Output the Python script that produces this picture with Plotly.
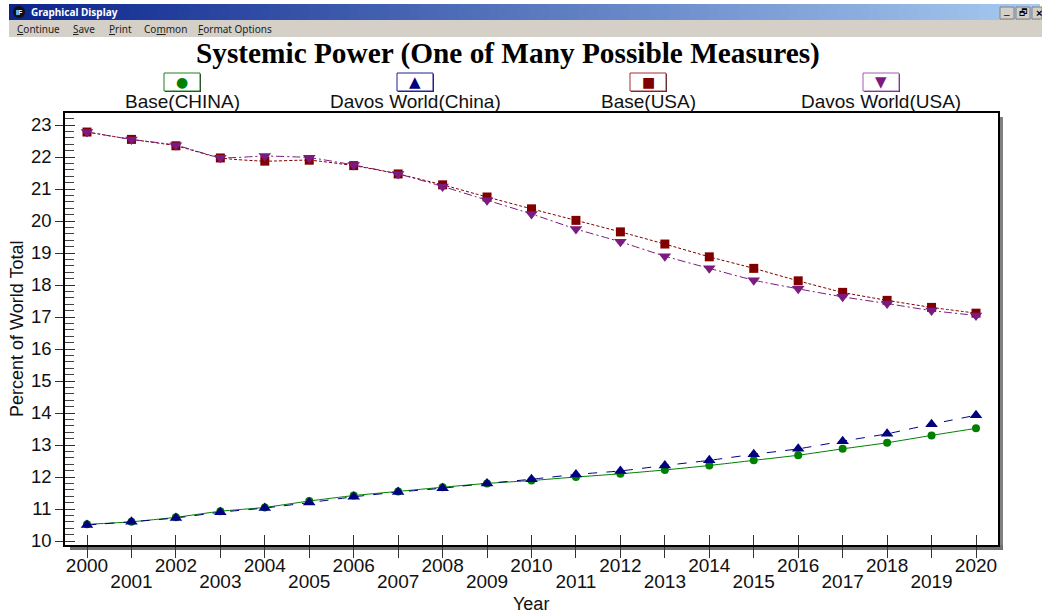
import plotly.graph_objects as go

years = list(range(2000, 2021))
base_china = [10.52,10.60,10.74,10.93,11.05,11.25,11.42,11.55,11.68,11.80,11.89,12.00,12.10,12.22,12.36,12.52,12.68,12.88,13.07,13.30,13.52]
davos_china = [10.50,10.60,10.72,10.90,11.03,11.20,11.38,11.53,11.65,11.80,11.93,12.08,12.19,12.36,12.52,12.71,12.88,13.12,13.35,13.65,13.93]
base_usa = [22.78,22.55,22.35,21.97,21.87,21.90,21.73,21.47,21.13,20.75,20.38,20.02,19.66,19.28,18.88,18.52,18.13,17.77,17.52,17.30,17.12]
davos_usa = [22.78,22.55,22.37,21.98,22.03,21.98,21.75,21.47,21.08,20.65,20.22,19.75,19.35,18.90,18.52,18.15,17.88,17.63,17.42,17.20,17.05]
y_ticks = list(range(10, 24))
even_years = [y for y in years if y % 2 == 0]
odd_years = [y for y in years if y % 2 == 1]

W, H = 1042, 614
L, R, T, B = 65, 998, 113, 545
XR = [1999.505, 2020.495]
YR = [9.875, 23.375]
GREEN, NAVY, RED, PURPLE = "#008000", "#000080", "#800000", "#7B1A80"
INK = "#111111"

def px(v): return (v - L) / (R - L)
def py(v): return (B - v) / (B - T)

def rect(x0, y0, x1, y1, fill=None, line=None, lw=1, layer="below"):
    return dict(type="rect", xref="paper", yref="paper", x0=px(x0), x1=px(x1),
                y0=py(y0), y1=py(y1), fillcolor=fill or "rgba(0,0,0,0)",
                line=dict(color=line or "rgba(0,0,0,0)", width=lw if line else 0), layer=layer)

def note(text, x, y, size, color=INK, family="Liberation Sans", anchor="center", angle=0):
    return dict(text=text, x=px(x), y=py(y), xref="paper", yref="paper", showarrow=False, textangle=angle,
                xanchor=anchor, yanchor="middle", font=dict(size=size, color=color, family=family))

fig = go.Figure()
series = [
    ("Base(CHINA)", base_china, GREEN, "solid", "circle", 8),
    ("Davos World(China)", davos_china, NAVY, "dash", "triangle-up", 11),
    ("Base(USA)", base_usa, RED, "3px,2px", "square", 9),
    ("Davos World(USA)", davos_usa, PURPLE, "8px,3px,2px,3px", "triangle-down", 11),
]
for name, vals, col, dash, sym, size in series:
    fig.add_trace(go.Scatter(x=years, y=vals, name=name, mode="lines+markers",
                             line=dict(color=col, width=1, dash=dash, shape="spline", smoothing=0.5),
                             marker=dict(symbol=sym, size=size, color=col, line=dict(width=0)),
                             showlegend=False))
# keep the overlay axes alive: inner half of the major ticks, and the second row of year labels
for xa, ya in (("x2", "y2"), ("x3", "y2")):
    fig.add_trace(go.Scatter(x=years[:1], y=y_ticks[:1], xaxis=xa, yaxis=ya, mode="markers",
                             marker=dict(opacity=0), showlegend=False, hoverinfo="skip"))

shapes = []
# plot shadow
shapes.append(rect(R, 117, R + 5, B + 5, fill="#808080"))
shapes.append(rect(70, B, R + 5, B + 5, fill="#707070"))
# title bar gradient
n = 103
c0, c1 = (10, 36, 140), (166, 202, 240)
for i in range(n):
    t = i / (n - 1)
    col = tuple(round(a + (b - a) * t) for a, b in zip(c0, c1))
    shapes.append(rect(9 + i * 10, 4, min(9 + (i + 1) * 10 + 1, W), 20, fill="rgb(%d,%d,%d)" % col))
# menu bar
shapes.append(rect(9, 20, W, 37, fill="#D4D0C8"))
# icon
shapes.append(dict(type="circle", xref="paper", yref="paper", x0=px(13), x1=px(25), y0=py(18), y1=py(6),
                   fillcolor="#101010", line=dict(width=0), layer="below"))
# window buttons
for x0 in (1000, 1016, 1032):
    shapes.append(rect(x0, 7, min(x0 + 14, W), 19, fill="#D4D0C8", line="#808080", lw=1))
# legend boxes
for x0, col, edge in ((164, GREEN, "#208020"), (397, NAVY, "#202090"), (630, RED, "#A03030"), (863, PURPLE, "#A060B0")):
    shapes.append(rect(x0 + 1, 74, x0 + 37, 92, fill="#303030"))
    shapes.append(rect(x0, 73, x0 + 36, 91, fill="white", line=edge, lw=1))

annotations = [
    note("<b>Systemic Power (One of Many Possible Measures)</b>", 508, 53, 29.3, "#000000", "Liberation Serif"),
    note("<b>Graphical Display</b>", 29, 12, 10, "white", "Noto Sans", "left"),
    note("<b>IF</b>", 19, 12, 7, "white", "Liberation Sans"),
    note("<u>C</u>ontinue", 15, 29, 10, "#222222", "Noto Sans", "left"),
    note("<u>S</u>ave", 71, 29, 10, "#222222", "Noto Sans", "left"),
    note("<u>P</u>rint", 107, 29, 10, "#222222", "Noto Sans", "left"),
    note("Co<u>m</u>mon", 142, 29, 10, "#222222", "Noto Sans", "left"),
    note("<u>F</u>ormat Options", 196, 29, 10, "#222222", "Noto Sans", "left"),
    note("_", 1007, 11, 10, "#000000", "Liberation Sans"),
    note("🗗", 1023, 13, 9, "#000000", "DejaVu Sans"),
    note("<b>×</b>", 1039, 13, 11, "#000000", "Liberation Sans"),
    note("Percent of World Total", 17, 329, 18, INK, "Liberation Sans", "center", -90),
    note("Year", 531, 604, 18, INK),
]
for (name, vals, col, dash, sym, size), cx, glyph, gs in zip(
        series, (182, 415, 648, 881), ("●", "▲", "■", "▼"), (14, 15, 14, 15)):
    annotations.append(note(glyph, cx, 82, gs, col, "DejaVu Sans"))
    annotations.append(note(name, cx, 101, 19, "#111111"))

tickfont = dict(size=18.5, color=INK, family="Liberation Sans")
xtickfont = dict(size=19, color=INK, family="Liberation Sans")
fig.update_layout(
    width=W, height=H, autosize=False,
    margin=dict(l=L, r=W - R, t=T, b=H - B, pad=0),
    paper_bgcolor="white", plot_bgcolor="white",
    shapes=shapes, annotations=annotations, showlegend=False,
    xaxis=dict(range=XR, tickmode="array", tickvals=years, ticktext=[str(y) if y in even_years else "" for y in years],
               ticks="outside", automargin=False, ticklen=11, tickwidth=1, tickcolor="#333333",
               tickfont=xtickfont, tickangle=0, ticklabelstandoff=-9,
               showgrid=False, zeroline=False, showline=True, linecolor="black", linewidth=1.5, mirror=True),
    yaxis=dict(range=YR, tickmode="array", tickvals=y_ticks, ticks="outside", ticklen=8, automargin=False,
               tickwidth=1, tickcolor="#333333", tickfont=tickfont,
               minor=dict(dtick=0.2, tick0=10, ticks="inside", ticklen=9, tickcolor="#444444", tickwidth=1, showgrid=False),
               showgrid=False, zeroline=False, showline=True, linecolor="black", linewidth=1.5, mirror=True),
    xaxis2=dict(range=XR, overlaying="x", anchor="y", side="bottom", tickmode="array", tickvals=years,
                ticks="inside", ticklen=10, tickwidth=1, tickcolor="#333333", showticklabels=False, automargin=False,
                showgrid=False, zeroline=False),
    xaxis3=dict(range=XR, overlaying="x", anchor="y", side="bottom", tickmode="array", tickvals=odd_years,
                ticktext=[str(y) for y in odd_years], ticks="", tickfont=xtickfont, tickangle=0,
                ticklabelstandoff=23, automargin=False, showgrid=False, zeroline=False),
    yaxis2=dict(range=YR, overlaying="y", anchor="x", side="left", tickmode="array", tickvals=y_ticks,
                ticks="inside", ticklen=10, tickwidth=1, tickcolor="#333333", showticklabels=False, automargin=False,
                showgrid=False, zeroline=False),
)
fig.write_html("out.html", config=dict(displayModeBar=False),
               post_script="document.body.style.margin='0';document.body.style.overflow='hidden';")
